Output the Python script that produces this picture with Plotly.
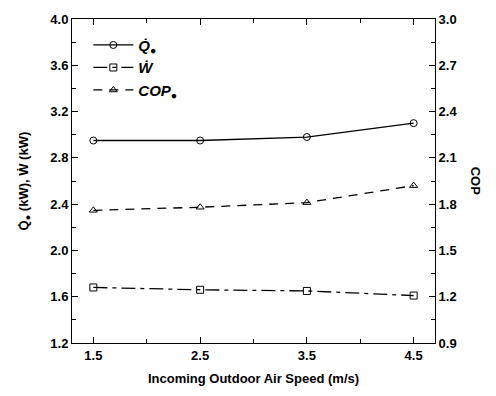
import plotly.graph_objects as go

speed = [1.5, 2.5, 3.5, 4.5]
q_e = [2.95, 2.95, 2.98, 3.10]
w_power = [1.68, 1.66, 1.65, 1.61]
cop = [1.76, 1.78, 1.81, 1.92]

x_ticks = [1.5, 2.5, 3.5, 4.5]
y_ticks = [1.2, 1.6, 2.0, 2.4, 2.8, 3.2, 3.6, 4.0]
y2_ticks = [0.9, 1.2, 1.5, 1.8, 2.1, 2.4, 2.7, 3.0]

FONT = "Liberation Sans"
mk = dict(color="black", size=7, line=dict(color="black", width=1))

fig = go.Figure()
fig.add_trace(go.Scatter(
    x=speed, y=q_e, mode="lines+markers", name="<b><i>Q\u0307<sub>\u25cf</sub></i></b>",
    line=dict(color="black", width=1.3, dash="solid"),
    marker=dict(symbol="circle-open", **mk)))
fig.add_trace(go.Scatter(
    x=speed, y=w_power, mode="lines+markers", name="<b><i>\u1e86</i></b>",
    line=dict(color="black", width=1.3, dash="14px,5px,4px,5px"),
    marker=dict(symbol="square-open", **mk)))
fig.add_trace(go.Scatter(
    x=speed, y=cop, mode="lines+markers", name="<b><i>COP<sub>\u25cf</sub></i></b>",
    yaxis="y2",
    line=dict(color="black", width=1.3, dash="9px,7px"),
    marker=dict(symbol="triangle-up-open", **mk)))

tickfont = dict(family=FONT, size=13, color="black")

def bold(vals, fmt):
    return [f"<b>{fmt.format(v)}</b>" for v in vals]

fig.update_layout(
    width=496, height=396,
    margin=dict(l=72, r=61, t=15, b=53),
    paper_bgcolor="white", plot_bgcolor="white",
    font=dict(family=FONT, color="black"),
    showlegend=True,
    legend=dict(x=0.045, y=0.97, xanchor="left", yanchor="top",
                bgcolor="rgba(0,0,0,0)", itemwidth=40,
                font=dict(family=FONT, size=15, color="black"),
                tracegroupgap=2),
    xaxis=dict(range=[1.3, 4.7], tickvals=x_ticks, ticktext=bold(x_ticks, "{:.1f}"),
               ticks="inside", ticklen=6, tickcolor="black", tickwidth=1,
               minor=dict(tick0=1.0, dtick=0.5, ticks="inside", ticklen=4, tickcolor="black"),
               showline=True, linecolor="black", linewidth=1, mirror="ticks",
               showgrid=False, zeroline=False, tickfont=tickfont,
               title=dict(text="<b>Incoming Outdoor Air Speed (m/s)</b>",
                          font=dict(family=FONT, size=13, color="black"), standoff=12)),
    yaxis=dict(range=[1.2, 4.0], tickvals=y_ticks, ticktext=bold(y_ticks, "{:.1f}"),
               ticks="inside", ticklen=6, tickcolor="black", tickwidth=1,
               minor=dict(tick0=1.2, dtick=0.2, ticks="inside", ticklen=4, tickcolor="black"),
               showline=True, linecolor="black", linewidth=1,
               showgrid=False, zeroline=False, tickfont=tickfont),
    yaxis2=dict(range=[0.9, 3.0], tickvals=y2_ticks, ticktext=bold(y2_ticks, "{:.1f}"),
                overlaying="y", side="right",
                ticks="inside", ticklen=6, tickcolor="black", tickwidth=1,
                minor=dict(tick0=0.9, dtick=0.15, ticks="inside", ticklen=4, tickcolor="black"),
                showline=True, linecolor="black", linewidth=1,
                showgrid=False, zeroline=False, tickfont=tickfont),
    annotations=[
        dict(text="<b>Q\u0307<sub>\u25cf</sub> (kW), \u1e86 (kW)</b>", xref="paper", yref="paper",
             x=-0.16, y=0.5, textangle=-90, showarrow=False,
             font=dict(family=FONT, size=13, color="black")),
        dict(text="<b>COP</b>", xref="paper", yref="paper",
             x=1.14, y=0.5, textangle=90, showarrow=False,
             font=dict(family=FONT, size=13, color="black")),
    ],
)

fig.write_html("out.html")
